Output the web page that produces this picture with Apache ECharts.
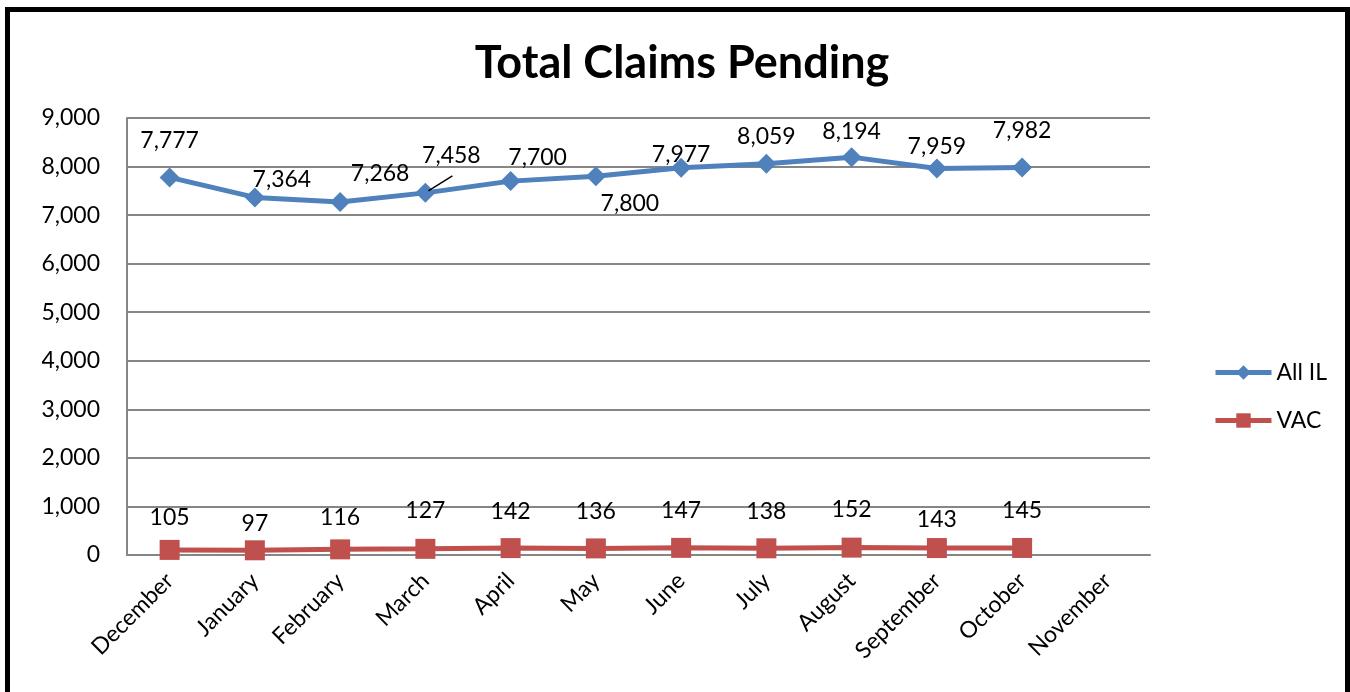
<!DOCTYPE html>
<html>
<head>
<meta charset="utf-8">
<script src="https://cdn.jsdelivr.net/npm/echarts@6/dist/echarts.min.js"></script>
<style>
  html, body { margin: 0; padding: 0; background: #fff; overflow: hidden; }
  #chart { position: absolute; left: 0; top: 0; width: 1350px; height: 692px; }
  .frame {
    position: absolute; left: 5px; top: 7px; width: 1335px; height: 700px;
    border: 5px solid #000; box-sizing: content-box; pointer-events: none;
  }
</style>
</head>
<body>
<div id="chart"></div>
<div class="frame"></div>
<script>
const months = ['December', 'January', 'February', 'March', 'April', 'May', 'June', 'July', 'August', 'September', 'October', 'November']
const allIL = [7777, 7364, 7268, 7458, 7700, 7800, 7977, 8059, 8194, 7959, 7982, null]
const vac = [105, 97, 116, 127, 142, 136, 147, 138, 152, 143, 145, null]

// label nudges (px) relative to each marker, as Excel placed them
const allILLabelShift = [[0, -37], [27, -18], [40, -29], [26, -37], [27, -24], [34, 27], [0, -13], [0, -27], [0, -26], [0, -22], [0, -37]]
const vacLabelShift = [[0, -32], [0, -27], [0, -32], [0, -38], [0, -37], [0, -37], [0, -37], [0, -37], [0, -38], [0, -28], [0, -37]]
const leaderIndex = 3 // March label has a leader line

const font = 'Lato, "Open Sans", sans-serif'
const fmt = (v) => Number(v).toLocaleString('en-US')

function layoutFor(shifts) {
  return (p) => {
    const s = shifts[p.dataIndex] || [0, 0]
    return { dx: s[0], dy: s[1] }
  }
}

const labelStyle = {
  show: true, position: 'inside', color: '#000',
  fontFamily: font, fontSize: 23,
  formatter: (p) => fmt(p.value)
}

const chart = echarts.init(document.getElementById('chart'))
chart.setOption({
  animation: false,
  backgroundColor: '#fff',
  title: {
    text: 'Total Claims Pending',
    left: 677,
    top: 36,
    textAlign: 'center',
    textStyle: { fontFamily: font, fontSize: 45, fontWeight: 'bold', color: '#000' }
  },
  legend: {
    orient: 'vertical',
    left: 1208,
    top: 356,
    itemWidth: 56,
    itemHeight: 18,
    itemGap: 25,
    lineStyle: { width: 5 },
    textStyle: { fontFamily: font, fontSize: 23, color: '#000' },
    data: ['All IL', 'VAC']
  },
  grid: { left: 127, right: 200, top: 118, bottom: 137, containLabel: false },
  xAxis: {
    type: 'category',
    data: months,
    boundaryGap: true,
    axisLine: { lineStyle: { color: '#868686', width: 2 } },
    axisTick: { show: false },
    axisLabel: { rotate: 45, fontFamily: font, fontSize: 23, color: '#000', margin: 22, interval: 0 }
  },
  yAxis: {
    type: 'value',
    min: 0,
    max: 9000,
    interval: 1000,
    axisLine: { show: true, lineStyle: { color: '#868686', width: 2 } },
    axisTick: { show: false },
    splitLine: { lineStyle: { color: '#868686', width: 2 } },
    axisLabel: { fontFamily: font, fontSize: 23, color: '#000', margin: 27, formatter: fmt }
  },
  series: [
    {
      name: 'All IL',
      type: 'line',
      data: allIL,
      symbol: 'diamond',
      symbolSize: 20,
      lineStyle: { color: '#4F81BD', width: 5 },
      itemStyle: { color: '#4F81BD' },
      label: labelStyle,
      labelLayout: layoutFor(allILLabelShift)
    },
    {
      name: 'VAC',
      type: 'line',
      data: vac,
      symbol: 'rect',
      symbolSize: 20,
      lineStyle: { color: '#C0504D', width: 5 },
      itemStyle: { color: '#C0504D' },
      label: labelStyle,
      labelLayout: layoutFor(vacLabelShift)
    }
  ]
})

// leader line from the March point toward its label, placed via the chart's own scale
const p = chart.convertToPixel({ seriesIndex: 0 }, [leaderIndex, allIL[leaderIndex]])
chart.setOption({
  graphic: [{
    type: 'line',
    shape: { x1: p[0] + 3, y1: p[1] - 2, x2: p[0] + 27, y2: p[1] - 17 },
    style: { stroke: '#000', lineWidth: 1.5 },
    z: 10
  }]
})
</script>
</body>
</html>
